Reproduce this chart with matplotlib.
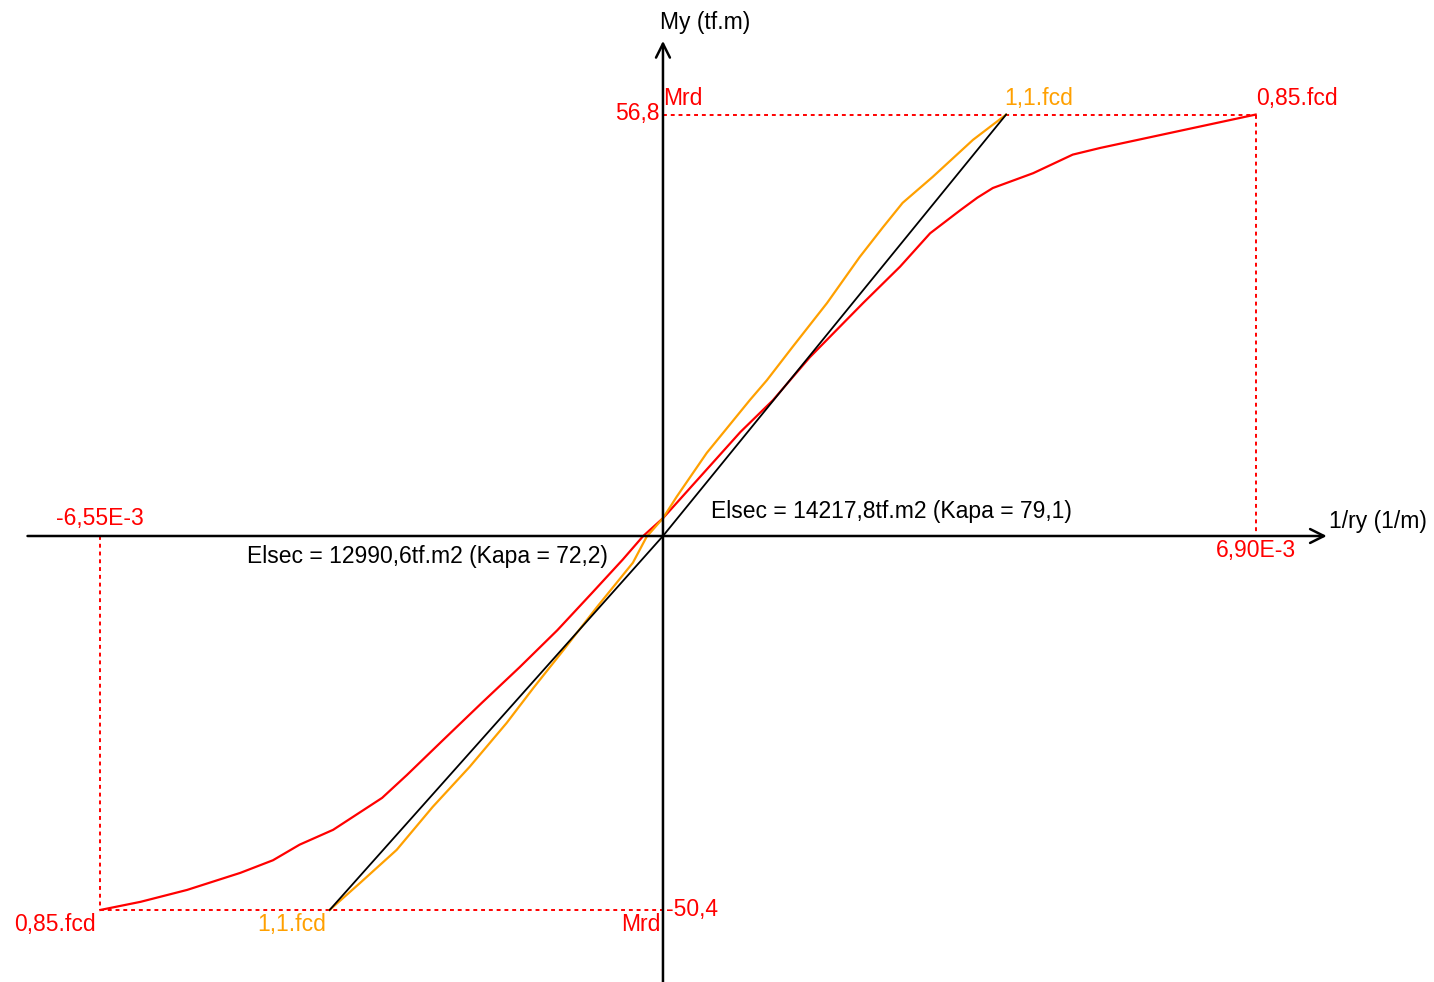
import matplotlib
matplotlib.use('Agg')
import matplotlib.pyplot as plt

# curvature in 1e-3 (1/m), moment in tf.m
red_x = [-6.55, -6.08, -5.54, -4.92, -4.54, -4.23, -3.84, -3.27, -2.98, -2.56, -2.11,
         -1.67, -1.23, -0.82, -0.47, -0.23, 0.0, 0.90, 1.28, 1.71, 2.33, 2.76, 3.11,
         3.46, 3.66, 3.84, 4.31, 4.77, 5.09, 6.90]
red_y = [-50.4, -49.3, -47.7, -45.4, -43.7, -41.6, -39.6, -35.3, -32.2, -27.5, -22.5,
         -17.7, -12.7, -7.6, -3.2, 0.0, 2.4, 14.0, 18.3, 24.1, 31.4, 36.3, 40.8,
         43.9, 45.6, 46.9, 48.9, 51.4, 52.3, 56.8]

orange_x = [-3.88, -3.53, -3.10, -2.68, -2.25, -1.82, -1.51, -1.16, -0.77, -0.35, -0.19,
            0.0, 0.16, 0.51, 1.01, 1.21, 1.51, 1.91, 2.29, 2.56, 2.79, 3.14, 3.61, 3.995]
orange_y = [-50.4, -46.8, -42.3, -36.5, -31.1, -25.2, -20.5, -15.4, -9.6, -3.6, -0.1,
            2.4, 5.3, 11.2, 18.3, 21.0, 25.5, 31.4, 37.6, 41.6, 44.9, 48.4, 53.4, 56.8]

secant_x = [-3.88, 0.0, 3.995]
secant_y = [-50.4, 0.0, 56.8]

x_pos, x_neg = 6.90, -6.55
m_pos, m_neg = 56.8, -50.4

RED = '#ff0000'
ORANGE = '#ffa000'

plt.rcParams['font.family'] = ['Liberation Sans', 'DejaVu Sans']

fig = plt.figure(figsize=(14.34, 9.82), dpi=100)
ax = fig.add_axes([0, 0, 1, 1])
ax.set_xlim(-7.718, 8.976)
ax.set_ylim(-60.11, 72.24)
ax.axis('off')

# axes with open arrows
ax.annotate('', xy=(7.76, 0), xytext=(-7.43, 0),
            arrowprops=dict(arrowstyle='->', color='black', lw=1.8, mutation_scale=25))
ax.annotate('', xy=(0, 67.1), xytext=(0, -60.5),
            arrowprops=dict(arrowstyle='->', color='black', lw=1.8, mutation_scale=25))

# dotted guide lines
dots = (0, (2, 2))
ax.plot([0, x_pos], [m_pos, m_pos], color=RED, lw=1.4, linestyle=dots)
ax.plot([x_pos, x_pos], [m_pos, 0], color=RED, lw=1.4, linestyle=dots)
ax.plot([x_neg, 0], [m_neg, m_neg], color=RED, lw=1.4, linestyle=dots)
ax.plot([x_neg, x_neg], [0, m_neg], color=RED, lw=1.4, linestyle=dots)

# curves
ax.plot(red_x, red_y, color=RED, lw=1.6)
ax.plot(orange_x, orange_y, color=ORANGE, lw=1.6)
ax.plot(secant_x, secant_y, color='black', lw=1.3)

fs = 16.5
ax.text(-0.03, 69.2, 'My (tf.m)', fontsize=fs, ha='left', va='center')
ax.text(7.75, 1.9, '1/ry (1/m)', fontsize=fs, ha='left', va='center')

ax.text(-0.04, m_pos + 0.2, '56,8', color=RED, fontsize=fs, ha='right', va='center')
ax.text(0.0, m_pos + 2.2, 'Mrd', color=RED, fontsize=fs, ha='left', va='center')
ax.text(3.97, m_pos + 2.2, '1,1.fcd', color=ORANGE, fontsize=fs, ha='left', va='center')
ax.text(x_pos, m_pos + 2.2, '0,85.fcd', color=RED, fontsize=fs, ha='left', va='center')
ax.text(x_pos, -2.0, '6,90E-3', color=RED, fontsize=fs, ha='center', va='center')
ax.text(x_neg, 2.3, '-6,55E-3', color=RED, fontsize=fs, ha='center', va='center')

ax.text(-6.6, m_neg - 2.0, '0,85.fcd', color=RED, fontsize=fs, ha='right', va='center')
ax.text(-3.92, m_neg - 2.0, '1,1.fcd', color=ORANGE, fontsize=fs, ha='right', va='center')
ax.text(-0.03, m_neg - 2.0, 'Mrd', color=RED, fontsize=fs, ha='right', va='center')
ax.text(0.03, m_neg, '-50,4', color=RED, fontsize=fs, ha='left', va='center')

ax.text(0.56, 3.3, 'Elsec = 14217,8tf.m2 (Kapa = 79,1)', fontsize=fs, ha='left', va='center')
ax.text(-0.64, -2.8, 'Elsec = 12990,6tf.m2 (Kapa = 72,2)', fontsize=fs, ha='right', va='center')

fig.savefig('out.png', dpi=100)
plt.close(fig)
